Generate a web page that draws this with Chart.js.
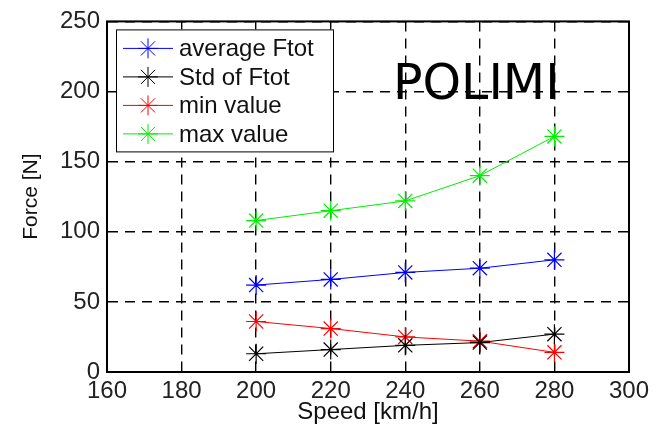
<!DOCTYPE html>
<html>
<head>
<meta charset="utf-8">
<script src="https://cdn.jsdelivr.net/npm/chart.js@4/dist/chart.umd.min.js"></script>
<style>
html,body{margin:0;padding:0;background:#fff;}
#wrap{width:664px;height:429px;position:relative;}
</style>
</head>
<body>
<div id="wrap"><canvas id="c" width="664" height="429"></canvas></div>
<script>
const speeds = [200, 220, 240, 260, 280];
const averageFtot = [62, 66, 71, 74, 80];
const stdFtot = [13, 16, 19, 21, 27];
const minValue = [36, 31, 25, 22, 14];
const maxValue = [108, 115, 122, 140, 168];
const seriesNames = ['average Ftot', 'Std of Ftot', 'min value', 'max value'];
const seriesColors = ['#0000ff', '#000000', '#ff0000', '#00ee00'];
const xTickValues = [160, 180, 200, 220, 240, 260, 280, 300];
const yTickValues = [0, 50, 100, 150, 200, 250];
const watermark = 'POLIMI';

const seriesValues = [averageFtot, stdFtot, minValue, maxValue];
const datasets = seriesValues.map((vals, i) => ({
  label: seriesNames[i],
  data: speeds.map((s, j) => ({x: s, y: vals[j]})),
  borderColor: seriesColors[i],
  backgroundColor: seriesColors[i],
  borderWidth: 1,
  pointStyle: 'star',
  pointRadius: 10,
  pointBorderWidth: 1.2,
  pointBorderColor: seriesColors[i],
  pointHoverRadius: 10,
  tension: 0,
  fill: false
}));

const TICK_FONT = {family: '"Liberation Sans", Arial, sans-serif', size: 24};

const overlay = {
  id: 'overlay',
  afterDatasetsDraw(chart) {
    const ctx = chart.ctx;
    const a = chart.chartArea;
    ctx.save();
    // watermark text
    ctx.fillStyle = '#000';
    ctx.font = '49px "DejaVu Sans", Verdana, sans-serif';
    ctx.textAlign = 'left';
    ctx.textBaseline = 'alphabetic';
    ctx.fillText(watermark, a.left + 286, a.top + 78);
    // legend box
    const lx = a.left + 9, ly = a.top + 8, lw = 217, lh = 122;
    ctx.fillStyle = '#fff';
    ctx.fillRect(lx, ly, lw, lh);
    ctx.strokeStyle = '#000';
    ctx.lineWidth = 1;
    ctx.strokeRect(lx + 0.5, ly + 0.5, lw, lh);
    ctx.font = '24px "Liberation Sans", Arial, sans-serif';
    ctx.textBaseline = 'middle';
    chart.data.datasets.forEach((ds, i) => {
      const cy = ly + 19 + i * 28.5;
      ctx.strokeStyle = ds.borderColor;
      ctx.lineWidth = 1;
      ctx.beginPath();
      ctx.moveTo(lx + 7, cy);
      ctx.lineTo(lx + 57, cy);
      ctx.stroke();
      Chart.helpers.drawPoint(ctx, {pointStyle: 'star', radius: 10, borderWidth: 1.2}, lx + 32, cy);
      ctx.fillStyle = '#111';
      ctx.fillText(ds.label, lx + 63, cy + 1);
    });
    // axes box
    ctx.strokeStyle = '#000';
    ctx.lineWidth = 2;
    ctx.strokeRect(a.left, a.top, a.right - a.left, a.bottom - a.top);
    ctx.restore();
  }
};

new Chart(document.getElementById('c'), {
  type: 'line',
  data: {datasets},
  options: {
    responsive: false,
    animation: false,
    plugins: {legend: {display: false}, tooltip: {enabled: false}},
    layout: {padding: {top: 19, right: 35, left: 0, bottom: 0}},
    scales: {
      x: {
        type: 'linear',
        min: 160, max: 300,
        afterBuildTicks(s) { s.ticks = xTickValues.map(v => ({value: v})); },
        afterFit(s) { s.height = 57; },
        grid: {color: '#000', lineWidth: 1.4, drawTicks: false},
        border: {display: true, color: '#000', dash: [10, 7]},
        ticks: {color: '#222', font: TICK_FONT, padding: 5, maxRotation: 0},
        title: {display: true, text: 'Speed [km/h]', color: '#111', font: TICK_FONT, padding: {top: 0, bottom: 2}}
      },
      y: {
        min: 0, max: 250,
        afterBuildTicks(s) { s.ticks = yTickValues.map(v => ({value: v})); },
        afterFit(s) { s.width = 107; },
        grid: {color: '#000', lineWidth: 1.4, drawTicks: false},
        border: {display: true, color: '#000', dash: [10, 7]},
        ticks: {color: '#222', font: TICK_FONT, padding: 7},
        title: {display: true, text: 'Force [N]', color: '#111', font: {family: '"Liberation Sans", Arial, sans-serif', size: 21}, padding: {top: 19, bottom: 0}}
      }
    }
  },
  plugins: [overlay]
});
</script>
</body>
</html>
